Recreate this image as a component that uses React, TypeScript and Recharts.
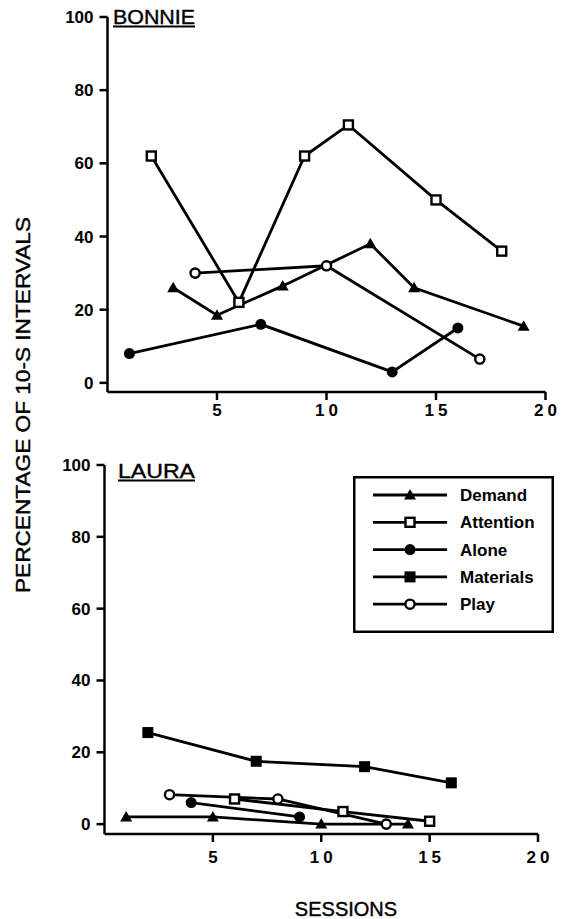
import { Legend, Line, LineChart, XAxis, YAxis } from "recharts";

type Point = { session: number; pct: number };
type Shape = "triangle" | "openSquare" | "dot" | "square" | "openDot";

const sessionTicks = [5, 10, 15, 20];
const percentTicks = [0, 20, 40, 60, 80, 100];
const conditionNames = ["Demand", "Attention", "Alone", "Materials", "Play"];

// Bonnie
const bonnieDemand: Point[] = [
  { session: 3, pct: 26 },
  { session: 5, pct: 18.5 },
  { session: 8, pct: 26.5 },
  { session: 12, pct: 38 },
  { session: 14, pct: 26 },
  { session: 19, pct: 15.5 },
];
const bonnieAttention: Point[] = [
  { session: 2, pct: 62 },
  { session: 6, pct: 22 },
  { session: 9, pct: 62 },
  { session: 11, pct: 70.5 },
  { session: 15, pct: 50 },
  { session: 18, pct: 36 },
];
const bonnieAlone: Point[] = [
  { session: 1, pct: 8 },
  { session: 7, pct: 16 },
  { session: 13, pct: 3 },
  { session: 16, pct: 15 },
];
const bonniePlay: Point[] = [
  { session: 4, pct: 30 },
  { session: 10, pct: 32 },
  { session: 17, pct: 6.5 },
];

// Laura
const lauraDemand: Point[] = [
  { session: 1, pct: 2 },
  { session: 5, pct: 2 },
  { session: 10, pct: 0 },
  { session: 14, pct: 0 },
];
const lauraAttention: Point[] = [
  { session: 6, pct: 7 },
  { session: 11, pct: 3.5 },
  { session: 15, pct: 0.8 },
];
const lauraAlone: Point[] = [
  { session: 4, pct: 6 },
  { session: 9, pct: 2 },
];
const lauraMaterials: Point[] = [
  { session: 2, pct: 25.5 },
  { session: 7, pct: 17.5 },
  { session: 12, pct: 16 },
  { session: 16, pct: 11.5 },
];
const lauraPlay: Point[] = [
  { session: 3, pct: 8.2 },
  { session: 8, pct: 7 },
  { session: 13, pct: 0 },
];

const shapeByName: Record<string, Shape> = {
  Demand: "triangle",
  Attention: "openSquare",
  Alone: "dot",
  Materials: "square",
  Play: "openDot",
};

const font = '"Liberation Sans", Arial, Helvetica, sans-serif';
const lineWidth = 2.8;

function Marker({ cx, cy, shape }: { cx?: number; cy?: number; shape: Shape }) {
  if (cx == null || cy == null) return null;
  switch (shape) {
    case "triangle":
      return <polygon points={`${cx},${cy - 6} ${cx - 6},${cy + 4.5} ${cx + 6},${cy + 4.5}`} fill="#000" />;
    case "openSquare":
      return <rect x={cx - 4.5} y={cy - 4.5} width={9} height={9} fill="#fff" stroke="#000" strokeWidth={2.4} />;
    case "dot":
      return <circle cx={cx} cy={cy} r={5.5} fill="#000" />;
    case "square":
      return <rect x={cx - 5.5} y={cy - 5.5} width={11} height={11} fill="#000" />;
    default:
      return <circle cx={cx} cy={cy} r={4.6} fill="#fff" stroke="#000" strokeWidth={2.4} />;
  }
}

function SessionTick({ x, y, payload }: any) {
  return (
    <text x={x + 2} y={y} dy={12} textAnchor="middle" fontSize={17} fontWeight="bold" letterSpacing={4} fontFamily={font} fill="#000">
      {payload.value}
    </text>
  );
}

function PercentTick({ x, y, payload }: any) {
  return (
    <text x={x} y={y} dy={6} textAnchor="end" fontSize={17} fontWeight="bold" fontFamily={font} fill="#000">
      {payload.value}
    </text>
  );
}

function series(name: string, data: Point[]) {
  const shape = shapeByName[name];
  return (
    <Line
      key={name}
      name={name}
      data={data}
      dataKey="pct"
      stroke="#000"
      strokeWidth={lineWidth}
      dot={(p: any) => <Marker key={`${name}-${p.index}`} cx={p.cx} cy={p.cy} shape={shape} />}
      activeDot={false}
      isAnimationActive={false}
      legendType="line"
    />
  );
}

function LegendBox({ payload }: any) {
  const rows = [...((payload ?? []) as Array<{ value: string }>)].sort(
    (a, b) => conditionNames.indexOf(a.value) - conditionNames.indexOf(b.value)
  );
  return (
    <svg width={201} height={157} style={{ display: "block" }}>
      <rect x={1.25} y={1.25} width={198.5} height={154.5} fill="#fff" stroke="#000" strokeWidth={2.5} />
      {rows.map((entry, i) => {
        const y = 19 + i * 27.3;
        return (
          <g key={entry.value}>
            <line x1={20} x2={94} y1={y} y2={y} stroke="#000" strokeWidth={lineWidth} />
            <Marker cx={57} cy={y} shape={shapeByName[entry.value]} />
            <text x={107} y={y + 6} fontSize={17} fontWeight="bold" fontFamily={font} fill="#000">
              {entry.value}
            </text>
          </g>
        );
      })}
    </svg>
  );
}

const axisStroke = { stroke: "#000", strokeWidth: 2.5 };

export default function App() {
  return (
    <div style={{ position: "absolute", left: 0, top: 0, width: 564, height: 919, background: "#fff" }}>
      <div style={{ position: "absolute", left: 0, top: 0 }}>
        <LineChart width={564} height={430} margin={{ top: 17, right: 18.5, left: 47.5, bottom: 8 }}>
          <XAxis
            type="number"
            dataKey="session"
            domain={[0, 20]}
            ticks={sessionTicks}
            axisLine={axisStroke}
            tickLine={axisStroke}
            tickSize={8}
            tickMargin={4}
            height={30}
            tick={<SessionTick />}
          />
          <YAxis
            type="number"
            domain={[-2.5, 100]}
            ticks={percentTicks}
            axisLine={axisStroke}
            tickLine={axisStroke}
            tickSize={8}
            tickMargin={6}
            width={60}
            tick={<PercentTick />}
          />
          {series("Demand", bonnieDemand)}
          {series("Alone", bonnieAlone)}
          {series("Play", bonniePlay)}
          {series("Attention", bonnieAttention)}
        </LineChart>
      </div>
      <div style={{ position: "absolute", left: 0, top: 440 }}>
        <LineChart width={564} height={479} margin={{ top: 25, right: 26, left: 44.5, bottom: 55 }}>
          <XAxis
            type="number"
            dataKey="session"
            domain={[0, 20]}
            ticks={sessionTicks}
            axisLine={axisStroke}
            tickLine={axisStroke}
            tickSize={8}
            tickMargin={9}
            height={30}
            tick={<SessionTick />}
          />
          <YAxis
            type="number"
            domain={[-2.75, 100]}
            ticks={percentTicks}
            axisLine={axisStroke}
            tickLine={axisStroke}
            tickSize={8}
            tickMargin={6}
            width={60}
            tick={<PercentTick />}
          />
          {series("Demand", lauraDemand)}
          {series("Attention", lauraAttention)}
          {series("Alone", lauraAlone)}
          {series("Materials", lauraMaterials)}
          {series("Play", lauraPlay)}
          <Legend
            layout="vertical"
            align="center"
            verticalAlign="middle"
            content={<LegendBox />}
            wrapperStyle={{ left: 353, top: 36, width: 201, height: 157 }}
          />
        </LineChart>
      </div>
      <svg width={564} height={919} style={{ position: "absolute", left: 0, top: 0, pointerEvents: "none" }}>
        <text x={113} y={24} fontSize={20} fontFamily={font} fill="#000" stroke="#000" strokeWidth={0.4} textLength={82} lengthAdjust="spacingAndGlyphs">
          BONNIE
        </text>
        <line x1={113} x2={195} y1={26.5} y2={26.5} stroke="#000" strokeWidth={1.8} />
        <text x={118} y={478} fontSize={20} fontFamily={font} fill="#000" stroke="#000" strokeWidth={0.4} textLength={77} lengthAdjust="spacingAndGlyphs">
          LAURA
        </text>
        <line x1={118} x2={195} y1={480.5} y2={480.5} stroke="#000" strokeWidth={1.8} />
        <text
          transform="translate(30 405) rotate(-90)"
          textAnchor="middle"
          fontSize={21}
          fontFamily={font}
          fill="#000"
          stroke="#000"
          strokeWidth={0.4}
          textLength={376}
          lengthAdjust="spacingAndGlyphs"
        >
          PERCENTAGE OF 10-S INTERVALS
        </text>
        <text x={346} y={916} textAnchor="middle" fontSize={20} fontFamily={font} fill="#000" stroke="#000" strokeWidth={0.4}>
          SESSIONS
        </text>
      </svg>
    </div>
  );
}
